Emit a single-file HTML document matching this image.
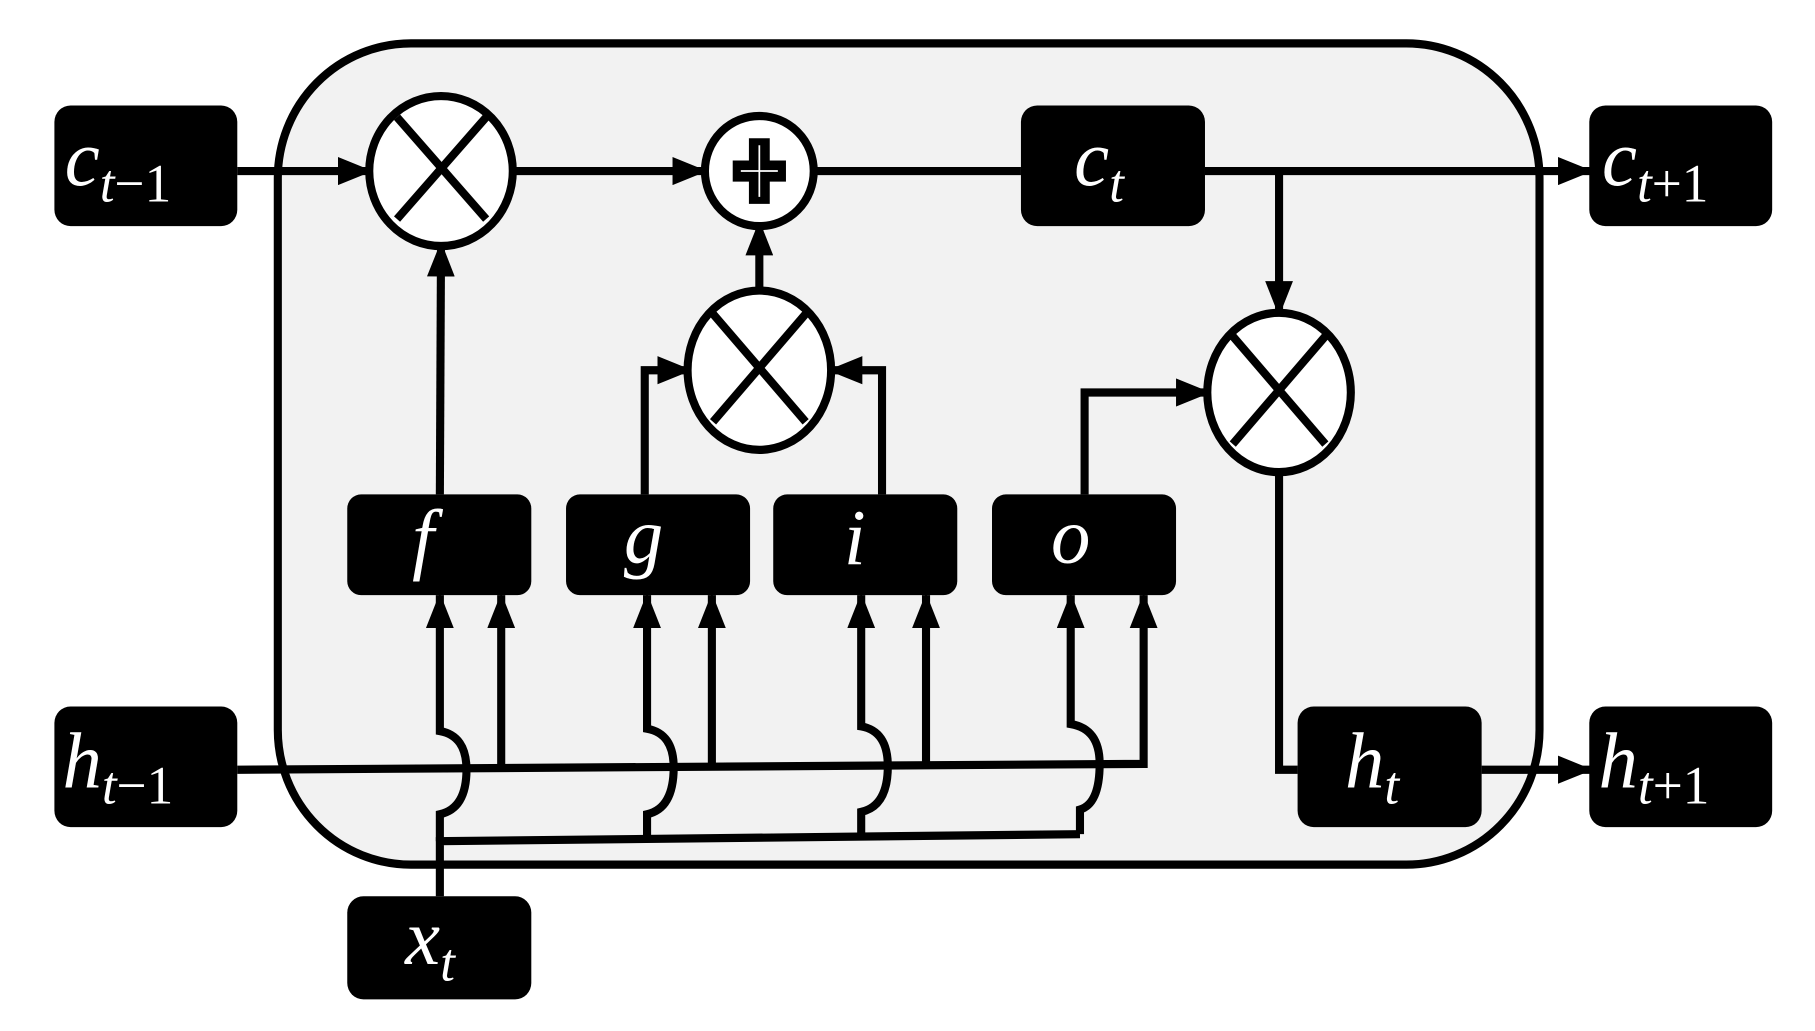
<!DOCTYPE html>
<html><head><style>html,body{margin:0;padding:0;background:#fff}svg{display:block}</style></head><body>
<svg width="1815" height="1031" viewBox="0 0 1568 880" preserveAspectRatio="none" xmlns="http://www.w3.org/2000/svg">
<defs><marker id="a" viewBox="0 0 30 24" refX="28" refY="12" markerWidth="30" markerHeight="24" orient="auto" markerUnits="userSpaceOnUse"><path d="M0,0L30,12L0,24z" fill="#000" stroke="none"/></marker></defs>
<rect x="240" y="37" width="1090" height="701" rx="115" fill="#f2f2f2" stroke="#000" stroke-width="7"/>
<g fill="none" stroke="#000" stroke-width="7">
<line x1="205" y1="146" x2="320" y2="146" marker-end="url(#a)"/>
<line x1="444" y1="146" x2="609" y2="146" marker-end="url(#a)"/>
<line x1="704" y1="146" x2="882" y2="146"/>
<line x1="1041" y1="146" x2="1374" y2="146" marker-end="url(#a)"/>
<line x1="1105" y1="146" x2="1105" y2="268" marker-end="url(#a)"/>
<line x1="380" y1="422" x2="381" y2="208" marker-end="url(#a)"/>
<line x1="656" y1="250" x2="656" y2="190" marker-end="url(#a)"/>
<polyline points="557,422 557,316 596,316" marker-end="url(#a)"/>
<polyline points="762,422 762,316 717,316" marker-end="url(#a)"/>
<polyline points="937,422 937,335 1044,335" marker-end="url(#a)"/>
<polyline points="1105,403 1105,657 1121,657"/>
<line x1="1280" y1="657" x2="1374" y2="657" marker-end="url(#a)"/>
<polyline points="205,657 988,652 988,508" marker-end="url(#a)"/>
<line x1="433" y1="656" x2="433" y2="508" marker-end="url(#a)"/>
<line x1="615" y1="655" x2="615" y2="508" marker-end="url(#a)"/>
<line x1="800" y1="654" x2="800" y2="508" marker-end="url(#a)"/>
<polyline points="380,765 380,718 933,712"/>
<path d="M380,718 L380,695 Q403,690 403,657 Q403,628 380,624 L380,508" marker-end="url(#a)"/>
<path d="M559,716 L559,695 Q582,690 582,655 Q582,626 559,622 L559,508" marker-end="url(#a)"/>
<path d="M744,714 L744,693 Q767,688 767,654 Q767,624 744,620 L744,508" marker-end="url(#a)"/>
<path d="M933,712 L933,691 Q950,686 950,652 Q950,622 925,618 L925,508" marker-end="url(#a)"/>
<ellipse cx="381" cy="146" rx="62" ry="64" fill="#fff"/>
<line x1="343" y1="100" x2="420" y2="187"/><line x1="420" y1="100" x2="343" y2="187"/>
<ellipse cx="656" cy="316" rx="62" ry="68" fill="#fff"/>
<line x1="616" y1="268" x2="696" y2="360"/><line x1="696" y1="268" x2="616" y2="360"/>
<ellipse cx="1105" cy="335" rx="62" ry="68" fill="#fff"/>
<line x1="1065" y1="287" x2="1145" y2="379"/><line x1="1145" y1="287" x2="1065" y2="379"/>
<ellipse cx="656" cy="146" rx="47" ry="47" fill="#fff"/>
</g>
<path d="M647,118h18v19h14v18h-14v19h-18v-19h-14v-18h14z" fill="#000"/>
<path d="M656,124v44M640,146h32" stroke="#fff" stroke-width="1.5"/>
<g fill="#000">
<rect x="47" y="90" width="158" height="103" rx="14"/>
<rect x="882" y="90" width="159" height="103" rx="14"/>
<rect x="1373" y="90" width="158" height="103" rx="14"/>
<rect x="47" y="603" width="158" height="103" rx="14"/>
<rect x="1121" y="603" width="159" height="103" rx="14"/>
<rect x="1373" y="603" width="158" height="103" rx="14"/>
<rect x="300" y="765" width="159" height="88" rx="14"/>
<rect x="300" y="422" width="159" height="86" rx="12"/>
<rect x="489" y="422" width="159" height="86" rx="12"/>
<rect x="668" y="422" width="159" height="86" rx="12"/>
<rect x="857" y="422" width="159" height="86" rx="12"/>
</g>
<g fill="#fff" font-family="Liberation Serif, serif" font-size="68" font-style="italic">
<text x="56" y="158">c<tspan font-size="46" dy="14">t</tspan><tspan font-size="46" font-style="normal">−1</tspan></text>
<text x="928" y="158">c<tspan font-size="46" dy="14">t</tspan></text>
<text x="1384" y="158">c<tspan font-size="46" dy="14">t</tspan><tspan font-size="46" font-style="normal">+1</tspan></text>
<text x="54" y="672">h<tspan font-size="46" dy="14">t</tspan><tspan font-size="46" font-style="normal">−1</tspan></text>
<text x="1162" y="672">h<tspan font-size="46" dy="14">t</tspan></text>
<text x="1381" y="672">h<tspan font-size="46" dy="14">t</tspan><tspan font-size="46" font-style="normal">+1</tspan></text>
<text x="350" y="823">x<tspan font-size="46" dy="14">t</tspan></text>
<text x="356" y="482">f</text>
<text x="539" y="480">g</text>
<text x="729" y="482">i</text>
<text x="908" y="480">o</text>
</g>
</svg>
</body></html>
